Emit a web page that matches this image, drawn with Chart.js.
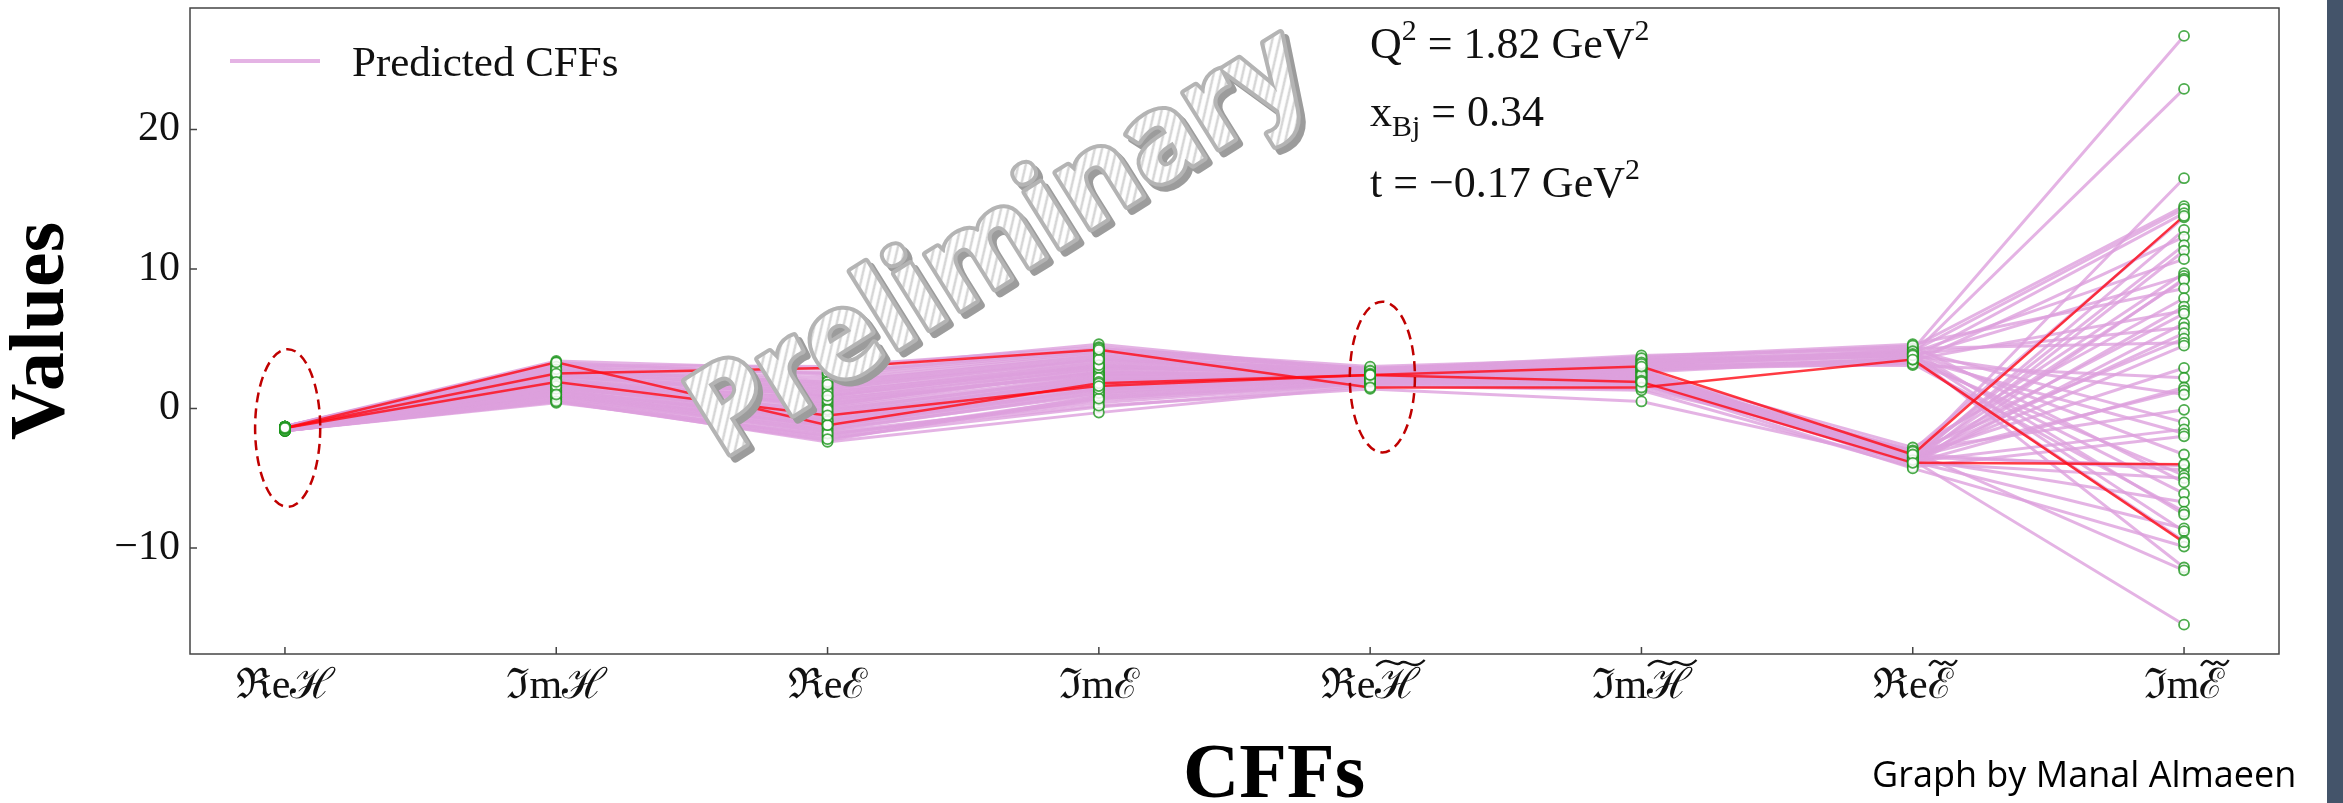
<!DOCTYPE html>
<html>
<head>
<meta charset="utf-8">
<script src="https://cdn.jsdelivr.net/npm/chart.js@4.4.1/dist/chart.umd.min.js"></script>
<style>
  html, body { margin: 0; padding: 0; background: #fff; }
  #wrap { position: relative; width: 2343px; height: 803px; overflow: hidden; }
  #credit { position: absolute; left: 1872px; top: 749px; font-family: 'Open Sans', sans-serif; font-size: 36px; color: #000; white-space: nowrap; }
  #strip { position: absolute; left: 2327px; top: 0; width: 16px; height: 803px; background: #44546a; }
</style>
</head>
<body>
<div id="wrap">
  <canvas id="cffChart" width="2343" height="803"></canvas>
  <div id="credit">Graph by Manal Almaeen</div>
  <div id="strip"></div>
</div>
<script>
// CFF names on the x axis (the last four carry a tilde)
const cffLabels = ['ℜeℋ', 'ℑmℋ', 'ℜeℰ', 'ℑmℰ', 'ℜeℋ̃', 'ℑmℋ̃', 'ℜeℰ̃', 'ℑmℰ̃'];
const yTicks = [-10, 0, 10, 20];

// one entry per predicted replica, per CFF
const reH = [-1.4, -1.5, -1.4, -1.3, -1.5, -1.4, -1.6, -1.4, -1.3, -1.5, -1.4, -1.4, -1.6, -1.3, -1.5, -1.4, -1.3, -1.4,
  -1.5, -1.4, -1.6, -1.4, -1.3, -1.5, -1.6, -1.3, -1.4, -1.5, -1.4, -1.5, -1.6, -1.3, -1.4, -1.4, -1.3, -1.5,
  -1.6, -1.3, -1.5, -1.4, -1.4, -1.5, -1.3, -1.4, -1.5, -1.4, -1.3, -1.6, -1.4, -1.5, -1.6, -1.3, -1.4, -1.5];
const imH = [2.8, 1.9, 1.1, 3.2, 2.3, 1.5, 0.6, 2.0, 2.6, 1.3, 1.8, 2.4, 0.8, 3.0, 1.6, 1.0, 3.4, 2.1,
  1.4, 2.2, 0.5, 1.7, 2.7, 1.2, 0.7, 3.1, 1.9, 0.9, 2.5, 1.6, 0.4, 2.9, 1.3, 2.0, 2.6, 1.5,
  0.6, 3.3, 1.1, 1.8, 2.3, 0.9, 3.0, 1.7, 1.2, 2.1, 2.7, 0.8, 2.4, 1.4, 0.5, 2.8, 1.6, 1.0];
const reE = [1.8, 0.4, -1.2, 2.5, 0.9, -0.3, -2.0, 0.2, 1.4, -0.9, 0.7, 1.1, -1.7, 2.2, -0.5, -1.4, 2.8, 0.1,
  -0.8, 1.0, -2.3, 0.5, 1.6, -1.1, -2.1, 3.0, -0.2, -1.5, 1.3, -0.6, -1.9, 2.0, -1.0, 0.8, 1.5, -0.4,
  -2.4, 2.4, -1.3, 0.3, 1.2, -1.6, 2.6, 0.0, -0.7, 0.6, 1.9, -1.8, 0.9, -0.1, -2.2, 1.7, -0.9, -1.2];
const imE = [3.8, 2.6, 1.4, 4.2, 3.1, 2.2, 0.8, 2.9, 3.5, 1.7, 2.4, 3.3, 0.4, 4.0, 2.0, 1.2, 4.6, 2.7,
  1.9, 3.0, 0.9, 2.5, 3.6, 1.5, 0.1, 4.4, 2.3, 1.0, 3.2, 2.1, 0.6, 3.9, 1.8, 2.8, 3.4, 2.0,
  -0.3, 4.1, 1.3, 2.6, 3.0, 1.1, 4.3, 2.4, 1.6, 2.9, 3.7, 0.2, 3.1, 2.2, 0.7, 3.5, 1.9, 1.4];
const reHt = [2.6, 2.3, 2.1, 2.8, 2.4, 2.2, 1.9, 2.5, 2.7, 2.0, 2.4, 2.6, 1.8, 2.9, 2.3, 2.1, 2.7, 2.2,
  2.5, 2.4, 1.9, 2.3, 2.6, 2.0, 1.7, 2.8, 2.4, 2.1, 2.5, 2.2, 1.8, 2.7, 2.3, 2.5, 2.6, 2.1,
  1.6, 2.8, 2.2, 2.4, 2.5, 2.0, 3.0, 2.3, 2.1, 2.6, 2.7, 1.4, 2.4, 2.2, 1.9, 2.5, 2.3, 2.0];
const imHt = [3.4, 2.9, 2.2, 3.6, 3.1, 2.7, 1.8, 2.5, 3.0, 2.1, 2.8, 3.3, 1.6, 3.5, 2.4, 2.0, 3.7, 2.6,
  2.3, 2.9, 1.9, 2.7, 3.2, 2.2, 1.4, 3.8, 2.5, 2.0, 3.0, 2.6, 1.7, 3.4, 2.3, 3.1, 2.8, 2.6,
  1.3, 3.5, 2.1, 2.4, 3.0, 1.9, 3.6, 2.7, 2.2, 2.8, 3.3, 0.5, 3.1, 2.9, 1.8, 3.2, 2.4, 2.0];
const reEt = [4.2, 3.9, -3.4, 4.4, 4.1, 3.6, -3.0, -3.7, 3.3, -3.5, -3.9, 4.0, -3.2, 3.7, -4.1, -3.6, 4.6, -2.8,
  -3.8, 3.5, -3.3, -4.0, 3.9, -3.6, -3.1, 4.3, -3.7, -3.4, 3.1, -3.9, -3.5, 3.8, -3.0, 4.2, -3.8, 3.6,
  -4.2, 4.0, -3.5, -3.3, 3.4, -3.9, 4.5, 3.7, -3.6, 3.2, 4.1, -3.8, 3.9, 3.5, -4.3, 3.8, -3.1, -3.7];
const imEt = [26.7, 22.9, 16.5, 14.5, 14.3, 14.0, 13.7, 12.8, 12.3, 11.7, 11.3, 10.7, 9.7, 9.5, 9.3, 9.2, 8.6, 7.9,
  7.3, 7.0, 6.8, 6.1, 5.8, 5.4, 5.0, 4.7, 4.5, 2.9, 2.2, 1.5, 1.3, 1.0, -0.1, -1.0, -1.5, -1.8,
  -2.0, -3.3, -4.1, -4.4, -4.8, -5.0, -5.3, -6.1, -6.7, -7.4, -7.6, -8.6, -8.8, -9.5, -9.9, -11.4, -11.6, -15.5];

// highlighted replicas (red)
const redRunA = [-1.4, 2.5, 2.9, 4.2, 1.5, 1.5, 3.5, -9.6];
const redRunB = [-1.4, 3.3, -1.2, 1.8, 2.4, 3.0, -3.3, 13.8];
const redRunC = [-1.4, 1.9, -0.5, 1.6, 2.4, 1.9, -3.9, -4.0];

const columns = [reH, imH, reE, imE, reHt, imHt, reEt, imEt];
const pinkRuns = imEt.map((_, r) => columns.map(col => col[r]));
const redRuns = [redRunA, redRunB, redRunC];

const PLUM = 'rgba(221, 160, 221, 0.8)';
const SERIF = "'Liberation Serif', 'DejaVu Serif', serif";
const TICK_FONT = `42px ${SERIF}`;

const toXY = run => run.map((v, i) => ({x: i, y: v}));

const datasets = [];
pinkRuns.forEach((run, r) => {
  datasets.push({
    label: r === 0 ? 'Predicted CFFs' : '',
    data: toXY(run),
    borderColor: PLUM,
    borderWidth: 3,
    pointRadius: 0,
    order: 3
  });
});
redRuns.forEach(run => {
  datasets.push({
    label: '',
    data: toXY(run),
    borderColor: 'rgba(255, 10, 20, 0.8)',
    borderWidth: 2.5,
    pointRadius: 0,
    order: 2
  });
});
// open markers on every point, above all lines
datasets.push({
  type: 'scatter',
  label: '',
  data: pinkRuns.concat(redRuns).flatMap(toXY),
  pointRadius: 5,
  pointBorderWidth: 1.8,
  pointBorderColor: 'rgba(30, 150, 30, 0.8)',
  pointBackgroundColor: 'rgba(255, 255, 255, 0.85)',
  showLine: false,
  order: 1
});

// dashed rings around the tight columns: [x, y, rx, ry] in data units
const rings = [[0.01, -1.4, 0.12, 5.65], [4.045, 2.25, 0.12, 5.4]];

function drawMath(ctx, x, y, parts, size) {
  let cx = x;
  for (const [t, kind] of parts) {
    const s = kind === 'n' ? size : size * 0.68;
    const dy = kind === 'sup' ? -size * 0.4 : kind === 'sub' ? size * 0.22 : 0;
    ctx.font = `${s}px ${SERIF}`;
    ctx.fillText(t, cx, y + dy);
    cx += ctx.measureText(t).width;
  }
}

function drawWatermark(ctx) {
  const tile = document.createElement('canvas');
  tile.width = 10; tile.height = 10;
  const p = tile.getContext('2d');
  p.fillStyle = '#ffffff';
  p.fillRect(0, 0, 10, 10);
  p.strokeStyle = '#d6d6d6';
  p.lineWidth = 2.5;
  p.beginPath();
  p.moveTo(0, 10); p.lineTo(10, 0);
  p.moveTo(-5, 5); p.lineTo(5, -5);
  p.moveTo(5, 15); p.lineTo(15, 5);
  p.stroke();
  const hatch = ctx.createPattern(tile, 'repeat');

  const text = 'Preliminary';
  ctx.font = "bold 120px 'Open Sans'";
  const size = 120 * 700 / ctx.measureText(text).width;
  const font = `bold ${size}px 'Open Sans'`;
  const angle = -32 * Math.PI / 180;

  ctx.save();
  ctx.translate(1005, 250);
  ctx.rotate(angle);
  ctx.font = font;
  ctx.textAlign = 'center';
  ctx.textBaseline = 'middle';
  ctx.lineJoin = 'round';
  ctx.fillStyle = '#9c9c9c';
  ctx.strokeStyle = '#9c9c9c';
  ctx.lineWidth = 8;
  ctx.strokeText(text, 0, 0);
  ctx.fillText(text, 0, 0);
  ctx.restore();

  ctx.save();
  ctx.translate(1000, 245);
  ctx.rotate(angle);
  ctx.font = font;
  ctx.textAlign = 'center';
  ctx.textBaseline = 'middle';
  ctx.lineJoin = 'round';
  ctx.strokeStyle = '#b4b4b4';
  ctx.lineWidth = 8;
  ctx.strokeText(text, 0, 0);
  ctx.fillStyle = hatch;
  ctx.fillText(text, 0, 0);
  ctx.restore();
}

// wide tilde over the last glyph of a tick label
function drawTilde(ctx, cx, cy, w) {
  ctx.beginPath();
  ctx.moveTo(cx - w / 2, cy + 3);
  ctx.bezierCurveTo(cx - w / 4, cy - 9, cx - w / 8, cy + 5, cx, cy);
  ctx.bezierCurveTo(cx + w / 8, cy - 5, cx + w / 4, cy + 9, cx + w / 2, cy - 3);
  ctx.stroke();
}

const decor = {
  id: 'cffDecor',
  afterDatasetsDraw(chart) {
    const {ctx, scales: {x, y}} = chart;

    ctx.save();
    ctx.strokeStyle = '#c00000';
    ctx.lineWidth = 2.5;
    ctx.setLineDash([10, 6]);
    rings.forEach(([cx, cy, rx, ry]) => {
      const px = x.getPixelForValue(cx), py = y.getPixelForValue(cy);
      const rpx = Math.abs(x.getPixelForValue(cx + rx) - px);
      const rpy = Math.abs(y.getPixelForValue(cy + ry) - py);
      ctx.beginPath();
      ctx.ellipse(px, py, rpx, rpy, 0, 0, Math.PI * 2);
      ctx.stroke();
    });
    ctx.restore();

    drawWatermark(ctx);

    // legend
    ctx.save();
    ctx.strokeStyle = PLUM;
    ctx.lineWidth = 4;
    ctx.beginPath();
    ctx.moveTo(230, 61);
    ctx.lineTo(320, 61);
    ctx.stroke();
    ctx.fillStyle = '#111';
    ctx.textBaseline = 'alphabetic';
    ctx.font = `43px ${SERIF}`;
    ctx.fillText('Predicted CFFs', 352, 76);

    // kinematics
    drawMath(ctx, 1370, 58, [['Q', 'n'], ['2', 'sup'], [' = 1.82 GeV', 'n'], ['2', 'sup']], 44);
    drawMath(ctx, 1370, 126, [['x', 'n'], ['Bj', 'sub'], [' = 0.34', 'n']], 44);
    drawMath(ctx, 1370, 197, [['t = −0.17 GeV', 'n'], ['2', 'sup']], 44);
    ctx.restore();
  },
  afterDraw(chart) {
    const {ctx, chartArea: a, scales: {x, y}} = chart;
    ctx.save();
    ctx.strokeStyle = '#444';
    ctx.lineWidth = 1.5;
    ctx.strokeRect(a.left, a.top, a.right - a.left, a.bottom - a.top);
    ctx.beginPath();
    x.ticks.forEach(t => {
      const px = x.getPixelForValue(t.value);
      ctx.moveTo(px, a.bottom);
      ctx.lineTo(px, a.bottom - 7);
    });
    y.ticks.forEach(t => {
      const py = y.getPixelForValue(t.value);
      ctx.moveTo(a.left, py);
      ctx.lineTo(a.left + 7, py);
    });
    ctx.stroke();

    // tildes for the tilde CFFs
    ctx.font = TICK_FONT;
    ctx.strokeStyle = '#111';
    ctx.lineWidth = 2.4;
    ctx.setLineDash([]);
    x.ticks.forEach(t => {
      const lbl = cffLabels[t.value];
      if (!lbl.includes('\u0303')) return;
      const base = lbl.replace('\u0303', '');
      const full = ctx.measureText(base).width;
      const last = ctx.measureText(base.slice(-1)).width;
      const px = x.getPixelForValue(t.value) + full / 2 - last / 2 + 3;
      drawTilde(ctx, px, 663, last * 1.1);
    });

    // x axis title
    ctx.fillStyle = '#000';
    ctx.font = `bold 78px ${SERIF}`;
    ctx.textAlign = 'center';
    ctx.textBaseline = 'alphabetic';
    ctx.fillText('CFFs', 1274, 797);
    ctx.restore();
  }
};

new Chart(document.getElementById('cffChart'), {
  type: 'line',
  data: {datasets},
  options: {
    responsive: false,
    animation: false,
    devicePixelRatio: 1,
    layout: {padding: {left: 0, right: 64, top: 8, bottom: 0}},
    plugins: {
      legend: {display: false},
      tooltip: {enabled: false}
    },
    scales: {
      x: {
        type: 'linear',
        min: -0.35,
        max: 7.35,
        afterBuildTicks: s => { s.ticks = cffLabels.map((_, i) => ({value: i})); },
        afterFit: s => { s.height = 149; s.paddingLeft = 0; s.paddingRight = 0; },
        grid: {display: false, drawTicks: false},
        border: {display: false},
        ticks: {
          autoSkip: false,
          maxRotation: 0,
          padding: 8,
          color: '#111',
          font: {family: SERIF, size: 42},
          callback: v => cffLabels[v].replace('\u0303', '')
        }
      },
      y: {
        min: -17.6,
        max: 28.7,
        afterBuildTicks: s => { s.ticks = yTicks.map(v => ({value: v})); },
        afterFit: s => { s.width = 190; s.paddingTop = 0; s.paddingBottom = 0; },
        grid: {display: false, drawTicks: false},
        border: {display: false},
        ticks: {
          padding: 10,
          color: '#111',
          font: {family: SERIF, size: 42},
          callback: v => v < 0 ? '−' + Math.abs(v) : String(v)
        },
        title: {
          display: true,
          text: 'Values',
          color: '#000',
          font: {family: SERIF, size: 78, weight: 'bold', lineHeight: 0.8},
          padding: {top: 12, bottom: 0}
        }
      }
    }
  },
  plugins: [decor]
});
</script>
</body>
</html>
